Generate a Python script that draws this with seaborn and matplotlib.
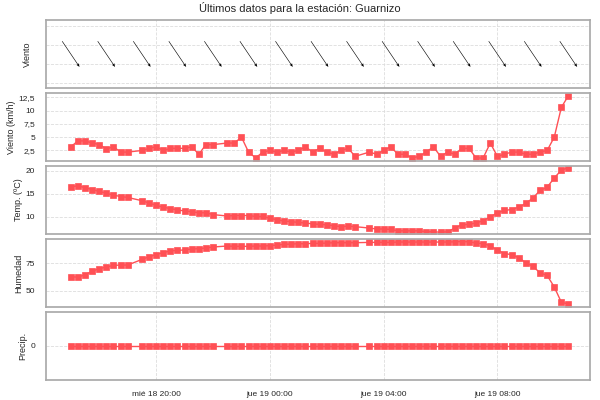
import numpy as np
import pandas as pd
import matplotlib
matplotlib.use("Agg")
import matplotlib.pyplot as plt
import matplotlib.dates as mdates
import seaborn as sns

# Datos (cada 15 min desde mié 18 17:00; faltan algunas lecturas)
slots = [i for i in range(71) if i not in (9, 21, 41)]
velocidad = [3.2, 4.3, 4.3, 3.9, 3.6, 2.8, 3.2, 2.2, 2.2,
             2.5, 2.9, 3.2, 2.5, 2.9, 2.9, 2.9, 3.2, 1.8, 3.6, 3.6,
             3.9, 3.9, 5.0, 2.2, 1.1, 2.2, 2.5, 2.2, 2.5, 2.2, 2.5, 3.2, 2.2, 2.9, 2.2, 1.8, 2.5, 2.9, 1.4,
             2.2, 1.8, 2.5, 3.2, 1.8, 1.8, 1.1, 1.4, 2.2, 3.2, 1.4, 2.2, 1.8, 2.9, 2.9, 1.1, 1.1, 3.9, 1.4,
             1.8, 2.2, 2.2, 1.8, 1.8, 2.2, 2.5, 5.0, 10.6, 12.8]
temperatura = [16.5, 16.7, 16.3, 15.9, 15.5, 15.1, 14.7, 14.4, 14.2,
               13.5, 13.0, 12.5, 12.1, 11.8, 11.5, 11.3, 11.1, 10.9, 10.9, 10.5,
               10.2, 10.3, 10.3, 10.3, 10.1, 10.1, 9.7, 9.4, 9.1, 9.0, 8.8, 8.7, 8.5, 8.4, 8.3, 8.1, 7.9, 8.0, 7.9,
               7.6, 7.4, 7.4, 7.3, 7.0, 7.0, 7.0, 7.0, 6.8, 6.8, 6.7, 6.8, 7.6, 8.3, 8.4, 8.7, 9.2, 10.0, 10.9,
               11.4, 11.6, 12.1, 12.9, 14.1, 15.7, 16.4, 18.4, 20.1, 20.6]
humedad = [62.5, 62.2, 64.3, 67.6, 69.9, 71.4, 72.9, 73.2, 73.2,
           78.3, 80.7, 82.7, 84.5, 86.0, 86.6, 86.9, 87.8, 88.1, 88.7, 89.6,
           90.5, 90.2, 90.2, 90.2, 90.5, 90.5, 90.8, 91.4, 92.0, 92.3, 92.6, 92.6, 92.9, 92.9, 93.2, 93.5, 93.5, 93.5, 93.5,
           93.8, 93.8, 93.8, 93.8, 94.1, 94.1, 94.1, 94.1, 94.1, 94.1, 94.1, 94.1, 94.3, 94.6, 94.3, 93.2, 92.6,
           90.8, 86.6, 83.6, 82.7, 79.8, 75.3, 72.0, 66.1, 63.7, 53.3, 39.3, 37.8]
precipitacion = [0.0] * len(slots)
# dirección del viento (grados, de donde sopla), una flecha cada 5 lecturas
dir_slots = list(range(0, 71, 5))
direccion = [326] * len(dir_slots)

t0 = pd.Timestamp("2023-05-17 17:00")
tiempos = [t0 + pd.Timedelta(minutes=15 * s) for s in slots]
t_dir = [t0 + pd.Timedelta(minutes=15 * s) for s in dir_slots]

df = pd.DataFrame({"t": tiempos, "vel": velocidad, "temp": temperatura,
                   "hum": humedad, "prec": precipitacion})

sns.set_theme(style="white")
plt.rcParams["font.family"] = ["Liberation Sans", "DejaVu Sans"]
plt.rcParams["font.size"] = 7

fig, axes = plt.subplots(5, 1, figsize=(6, 4), dpi=100, sharex=True)
fig.subplots_adjust(left=0.077, right=0.983, top=0.95, bottom=0.05, hspace=0.07)
fig.suptitle("Últimos datos para la estación: Guarnizo", fontsize=8, y=0.995)

rojo = "#ff5055"
for ax, col, lab in zip(axes[1:], ["vel", "temp", "hum", "prec"],
                        ["Viento (km/h)", "Temp. (ºC)", "Humedad", "Precip."]):
    sns.lineplot(data=df, x="t", y=col, ax=ax, color=rojo, lw=1, marker="s",
                 markersize=5, markeredgecolor=rojo, markeredgewidth=0.5)
    ax.set_ylabel(lab, fontsize=6.5, labelpad=2)
    ax.set_xlabel("")

# flechas de dirección
ax = axes[0]
rad = np.deg2rad(direccion)
u = -np.sin(rad)
v = -np.cos(rad)
ax.quiver(mdates.date2num(t_dir), np.zeros(len(t_dir)), u, v, pivot="middle",
          scale_units="dots", scale=1 / 31, angles="uv", width=0.0011,
          headwidth=5, headlength=6, headaxislength=5, color="black")
ax.set_ylim(-1.8, 1.8)
ax.set_yticks([-1.5, -0.5, 0.5, 1.5])
ax.set_yticklabels([])
ax.tick_params(axis="y", length=0)
ax.set_ylabel("Viento", fontsize=6.5, labelpad=8)

axes[1].set_ylim(0.5, 13.3)
axes[1].set_yticks([2.5, 5, 7.5, 10, 12.5])
axes[1].set_yticklabels(["2,5", "5", "7,5", "10", "12,5"])
axes[2].set_ylim(6.3, 21)
axes[2].set_yticks([10, 15, 20])
axes[3].set_ylim(35, 97)
axes[3].set_yticks([50, 75])
axes[4].set_ylim(-1, 1)
axes[4].set_yticks([0])

for ax in axes:
    ax.grid(True, color="#dddddd", ls="--", lw=0.6)
    for s in ax.spines.values():
        s.set_color("#aaaaaa")
    ax.tick_params(labelsize=6, pad=2)

ticks = [pd.Timestamp("2023-05-17 20:00") + pd.Timedelta(hours=4 * k) for k in range(4)]
axes[-1].set_xticks(ticks)
axes[-1].set_xticklabels(["mié 18 20:00", "jue 19 00:00", "jue 19 04:00", "jue 19 08:00"])
axes[-1].set_xlim(t0 - pd.Timedelta(minutes=52), t0 + pd.Timedelta(minutes=15 * 70 + 45))

fig.savefig("out.png")
